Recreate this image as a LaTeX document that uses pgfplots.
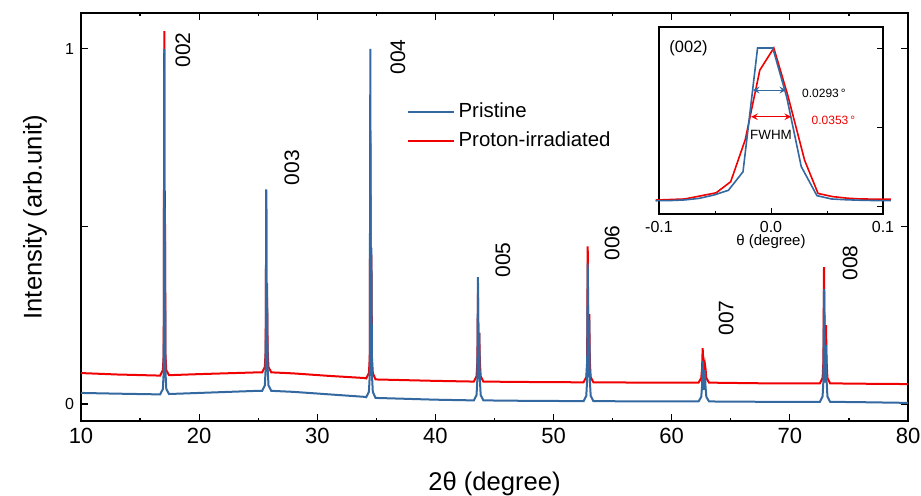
\documentclass[border=0pt]{standalone}
\usepackage{fontspec}
\setmainfont{Liberation Sans}
\usepackage{pgfplots}
\pgfplotsset{compat=1.18}
\definecolor{pblue}{RGB}{52,104,160}
\definecolor{pred}{RGB}{240,0,0}

\begin{document}
\begin{tikzpicture}
\begin{axis}[
    name=main,
    scale only axis,
    width=413.5pt, height=204pt,
    xmin=10, xmax=80, ymin=-0.048, ymax=1.101,
    xtick={10,20,...,80}, minor x tick num=1,
    ytick={0,0.5,1}, yticklabels={0,,1},
    tick align=inside,
    major tick length=3.5pt, minor tick length=1.6pt,
    axis line style={line width=0.75pt},
    every tick/.style={black, line width=0.6pt},
    /pgf/number format/assume math mode=true,
    xticklabel style={font=\fontsize{11}{13}\selectfont},
    yticklabel style={font=\fontsize{8}{10}\selectfont},
    xlabel={2θ (degree)},
    ylabel={Intensity (arb.unit)},
    label style={font=\fontsize{12.8}{15}\selectfont},
    xlabel style={at={(axis description cs:0.5,-0.154)}, anchor=center},
    ylabel style={at={(axis description cs:-0.0556,0.5)}, anchor=center},
    legend style={at={(axis description cs:0.386,0.80)}, anchor=north west,
        draw=none, fill=none, font=\fontsize{10.2}{12}\selectfont, row sep=1.5pt},
    legend cell align=left,
    reverse legend,
    legend image code/.code={\draw[#1, line width=1pt] (0pt,0pt) -- (23pt,0pt);},
]
% proton-irradiated (drawn first, pristine on top)
\addplot[pred, line width=1pt] coordinates {
(10,0.087) (13,0.083) (16.5,0.080)
(16.7,0.080) (16.93,0.095) (17.0,0.14) (17.05,1.05) (17.075,0.25) (17.10,0.6) (17.15,0.14) (17.22,0.095) (17.45,0.081)
(20,0.084) (25,0.089)
(25.33,0.089) (25.56,0.104) (25.63,0.15) (25.68,0.55) (25.715,0.17) (25.75,0.30) (25.80,0.15) (25.87,0.104) (26.1,0.089)
(28,0.086) (31,0.079) (34,0.073)
(34.14,0.072) (34.37,0.087) (34.44,0.13) (34.49,0.77) (34.535,0.19) (34.58,0.42) (34.63,0.13) (34.70,0.087) (34.93,0.069)
(40,0.065)
(43.25,0.063) (43.48,0.078) (43.55,0.12) (43.6,0.31) (43.655,0.12) (43.71,0.20) (43.76,0.12) (43.83,0.078) (44.06,0.063)
(47,0.062) (52,0.061)
(52.54,0.061) (52.77,0.076) (52.84,0.12) (52.89,0.444) (52.955,0.13) (53.02,0.253) (53.07,0.12) (53.14,0.076) (53.37,0.061)
(58,0.060)
(62.27,0.060) (62.50,0.073) (62.57,0.10) (62.62,0.157) (62.715,0.09) (62.81,0.112) (62.86,0.10) (62.93,0.073) (63.16,0.060)
(68,0.058)
(72.54,0.058) (72.77,0.073) (72.84,0.12) (72.89,0.385) (72.975,0.11) (73.06,0.222) (73.11,0.12) (73.18,0.073) (73.41,0.058)
(76,0.057) (80,0.056)
};
% pristine
\addplot[pblue, line width=1pt] coordinates {
(10,0.031) (13,0.029) (16.5,0.027)
(16.7,0.027) (16.93,0.042) (17.0,0.09) (17.05,1.0) (17.075,0.18) (17.10,0.55) (17.15,0.09) (17.22,0.042) (17.45,0.028)
(20,0.031) (25,0.037)
(25.33,0.037) (25.56,0.052) (25.63,0.1) (25.68,0.604) (25.715,0.13) (25.75,0.34) (25.80,0.1) (25.87,0.052) (26.1,0.037)
(28,0.034) (31,0.027) (34,0.020)
(34.14,0.019) (34.37,0.034) (34.44,0.08) (34.49,1.0) (34.535,0.15) (34.58,0.44) (34.63,0.08) (34.70,0.034) (34.93,0.017)
(40,0.012)
(43.25,0.010) (43.48,0.025) (43.55,0.07) (43.6,0.357) (43.655,0.07) (43.71,0.20) (43.76,0.07) (43.83,0.025) (44.06,0.010)
(47,0.009) (52,0.008)
(52.54,0.008) (52.77,0.023) (52.84,0.068) (52.89,0.396) (52.955,0.075) (53.02,0.236) (53.07,0.068) (53.14,0.023) (53.37,0.008)
(58,0.007)
(62.27,0.007) (62.50,0.02) (62.57,0.05) (62.62,0.121) (62.715,0.04) (62.81,0.095) (62.86,0.05) (62.93,0.02) (63.16,0.007)
(68,0.006)
(72.54,0.006) (72.77,0.021) (72.84,0.066) (72.89,0.323) (72.975,0.06) (73.06,0.166) (73.11,0.066) (73.18,0.021) (73.41,0.006)
(76,0.005) (80,0.003)
};
\legend{Proton-irradiated, Pristine}
% peak indices
\begin{scope}[every node/.style={rotate=90, font=\fontsize{10.5}{12}\selectfont}]
\node at (axis cs:18.63,0.997) {002};
\node at (axis cs:27.86,0.665) {003};
\node at (axis cs:36.83,0.977) {004};
\node at (axis cs:45.72,0.405) {005};
\node at (axis cs:54.95,0.453) {006};
\node at (axis cs:64.60,0.242) {007};
\node at (axis cs:75.10,0.397) {008};
\end{scope}
\end{axis}

% inset: (002) rocking curve
\begin{axis}[
    at={(289pt,103.5pt)}, anchor=south west,
    scale only axis,
    width=112pt, height=93.5pt,
    xmin=-0.1, xmax=0.1, ymin=-0.05, ymax=1.133,
    xtick={-0.1,0,0.1}, xticklabels={-0.1,0.0,0.1}, minor x tick num=1,
    ytick={0,0.5,1}, yticklabels={},
    xtick pos=bottom, ytick pos=right,
    tick align=inside,
    major tick length=3pt, minor tick length=1.5pt,
    axis line style={line width=0.6pt},
    every tick/.style={black, line width=0.5pt},
    axis background/.style={fill=white},
    clip=false,
    xticklabel style={font=\fontsize{8}{10}\selectfont},
    xlabel={θ (degree)},
    xlabel style={font=\fontsize{7.5}{9}\selectfont, at={(axis description cs:0.5,-0.15)}, anchor=center},
]
\addplot[pred, line width=0.8pt] coordinates {
(-0.103,0.038) (-0.077,0.045) (-0.064,0.063) (-0.049,0.084) (-0.036,0.154)
(-0.023,0.42) (-0.010,0.86) (0.0025,1.0) (0.015,0.70) (0.030,0.29)
(0.042,0.08) (0.055,0.06) (0.068,0.05) (0.08,0.045) (0.107,0.043)
};
\addplot[pblue, line width=0.8pt] coordinates {
(-0.103,0.034) (-0.09,0.035) (-0.077,0.039) (-0.064,0.049) (-0.051,0.07)
(-0.038,0.10) (-0.025,0.217) (-0.012,1.0) (0.0016,1.0) (0.014,0.69)
(0.027,0.25) (0.041,0.066) (0.054,0.045) (0.067,0.04) (0.08,0.037)
(0.093,0.035) (0.107,0.035)
};
% FWHM arrows
\addplot[pblue, line width=0.5pt, <->, >=stealth] coordinates {(-0.0163,0.734) (0.0136,0.734)};
\addplot[pred, line width=0.5pt, <->, >=stealth] coordinates {(-0.0178,0.565) (0.018,0.565)};
\node[anchor=west, font=\fontsize{6}{7}\selectfont] at (axis cs:0.0215,0.715) {0.0293\,°};
\node[anchor=west, font=\fontsize{6}{7}\selectfont, text=pred] at (axis cs:0.030,0.544) {0.0353\,°};
\node[font=\fontsize{6.7}{8}\selectfont] at (axis cs:0.0,0.45) {FWHM};
\node[anchor=west, font=\fontsize{8.2}{10}\selectfont] at (axis cs:-0.097,1.0) {(002)};
\end{axis}
\pgfresetboundingbox
\path[use as bounding box] (-40.5pt,-37.5pt) rectangle (420pt,210.5pt);
\end{tikzpicture}
\end{document}
